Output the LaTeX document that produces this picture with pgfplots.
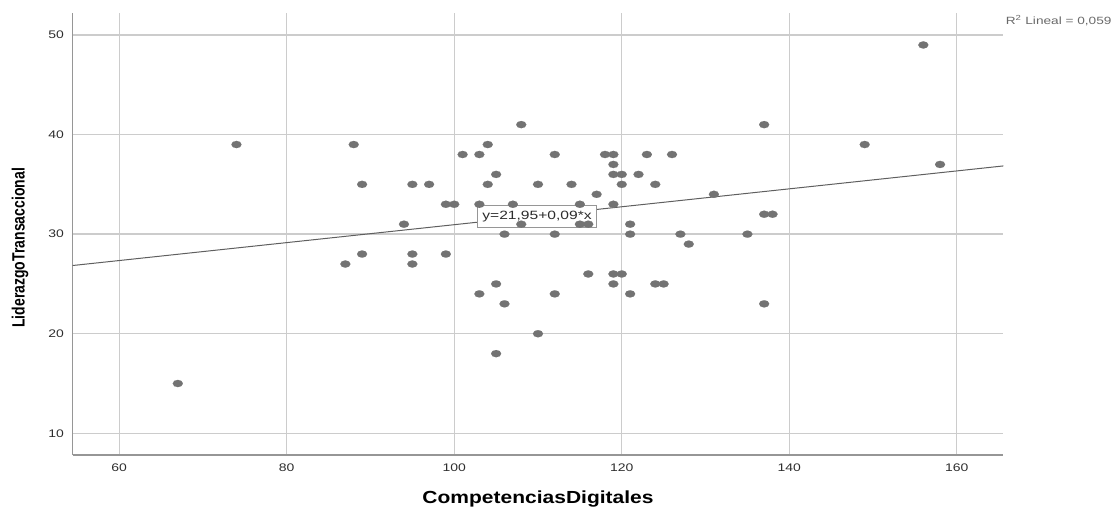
\documentclass[border=0pt]{standalone}
\usepackage{fontspec}
\setmainfont{Liberation Sans}
\usepackage{pgfplots}
\pgfplotsset{compat=1.18}
\definecolor{gridc}{RGB}{204,204,204}
\definecolor{axisc}{RGB}{150,150,150}
\definecolor{ptc}{RGB}{115,115,115}
\definecolor{tickc}{RGB}{45,45,45}
\definecolor{linec}{RGB}{95,95,95}
\begin{document}
\begin{tikzpicture}
\useasboundingbox (-72.7pt,-51pt) rectangle (1040.3pt,455pt);
\begin{axis}[
  scale only axis,
  width=930.6pt, height=441.7pt,
  xmin=54.45, xmax=165.55, ymin=7.82, ymax=52.18,
  xtick={60,80,100,120,140,160},
  ytick={10,20,30,40,50},
  grid=major,
  major grid style={gridc, line width=1.3pt},
  axis x line*=bottom, axis y line*=left,
  x axis line style={-, axisc, line width=1.5pt},
  y axis line style={-, axisc, line width=1.5pt},
  major tick length=0pt,
  tick style={draw=none},
  /pgf/number format/assume math mode=true,
  xticklabel style={font=\fontsize{11}{13}\selectfont, text=tickc, xscale=1.27, anchor=north, yshift=-5.3pt},
  yticklabel style={font=\fontsize{11}{13}\selectfont, text=tickc, xscale=1.27, anchor=east, xshift=-3.3pt},
  xlabel={CompetenciasDigitales},
  xlabel style={font=\fontsize{17.5}{20}\selectfont\bfseries, text=black, xscale=1.2, at={(axis description cs:0.5,-0.0995)}, anchor=center},
  ylabel={LiderazgoTransaccional},
  ylabel style={font=\fontsize{14}{16}\selectfont\bfseries, text=black, yscale=1.27, at={(axis description cs:-0.0566,0.469)}, anchor=center},
  clip=false,
]
\addplot[only marks, color=ptc, mark=*, mark size=3.6pt, mark options={fill=ptc, draw=ptc, line width=0.1pt, xscale=1.4}] coordinates {
(67,15) (74,39) (87,27) (88,39) (89,35) (89,28) (94,31) (95,35) (95,28) (95,27)
(97,35) (99,33) (99,28) (100,33) (101,38) (103,38) (103,33) (103,24) (104,39) (104,35)
(105,36) (105,25) (105,18) (106,30) (106,23) (107,33) (108,41) (108,31) (110,35) (110,20)
(112,38) (112,30) (112,24) (114,35) (115,33) (115,31) (116,31) (116,26) (117,34) (118,38)
(119,38) (119,37) (119,36) (119,33) (119,26) (119,25) (120,36) (120,35) (120,26) (121,31)
(121,30) (121,24) (122,36) (123,38) (124,35) (124,25) (125,25) (126,38) (127,30) (128,29)
(131,34) (135,30) (137,41) (137,32) (137,23) (138,32) (149,39) (156,49) (158,37)
};
\addplot[linec, line width=1pt] coordinates {(54.45,26.85) (165.55,36.85)};
\node[draw=axisc, line width=1pt, fill=white, font=\fontsize{12}{14}\selectfont, text=tickc, xscale=1.3, inner xsep=4pt, inner ysep=5.5pt] at (axis cs:109.88,31.78) {y=21,95+0,09*x};
\node[anchor=west, font=\fontsize{10.5}{12}\selectfont, text={rgb,255:red,105;green,105;blue,105}, xscale=1.3, inner sep=0pt] at (rel axis cs:1,1) [xshift=1.7pt, yshift=-7.7pt] {R\textsuperscript{2} Lineal = 0,059};
\end{axis}
\end{tikzpicture}
\end{document}
